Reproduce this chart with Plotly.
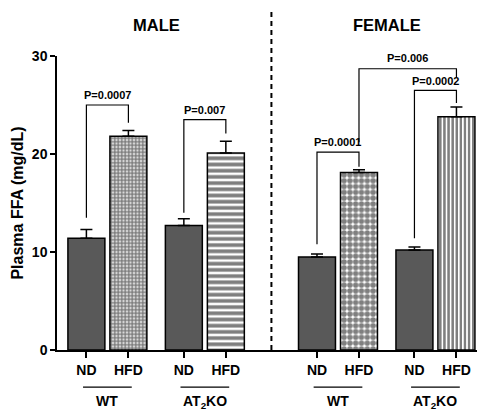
import plotly.graph_objects as go

# ---- data ----
groups = ["MALE", "MALE", "MALE", "MALE", "FEMALE", "FEMALE", "FEMALE", "FEMALE"]
genotypes = ["WT", "WT", "AT2KO", "AT2KO", "WT", "WT", "AT2KO", "AT2KO"]
diets = ["ND", "HFD", "ND", "HFD", "ND", "HFD", "ND", "HFD"]
means = [11.4, 21.8, 12.7, 20.1, 9.5, 18.1, 10.2, 23.8]
sem = [0.9, 0.6, 0.7, 1.2, 0.3, 0.3, 0.3, 1.0]
pvalues = ["P=0.0007", "P=0.007", "P=0.0001", "P=0.0002", "P=0.006"]
# comparisons: (left bar index, right bar index)
comparisons = [(0, 1), (2, 3), (4, 5), (6, 7), (5, 7)]
y_ticks = [0, 10, 20, 30]

# ---- layout helpers ----
start, within, pair_gap, sex_gap = 0.70, 1.0, 1.32, 2.17
pos = []
x = start
for i in range(8):
    if i > 0:
        if i % 4 == 0:
            x += sex_gap
        elif i % 2 == 0:
            x += pair_gap
        else:
            x += within
    pos.append(x)

gray = "#595959"
shapes_pat = ["", ".", "", "-", "", ".", "", "|"]
pat_size = [4, 3.5, 4, 6.2, 4, 5.8, 4, 4.1]
pat_sol = [0.3, 0.75, 0.3, 0.6, 0.3, 0.7, 0.3, 0.6]

fig = go.Figure()
for i in range(len(means)):
    if shapes_pat[i]:
        marker = dict(color="white", line=dict(color="black", width=1.5),
                      pattern=dict(shape=shapes_pat[i], fgcolor="black", bgcolor="white",
                                   size=pat_size[i], solidity=pat_sol[i]))
    else:
        marker = dict(color=gray, line=dict(color="black", width=1.5))
    fig.add_trace(go.Bar(
        x=[pos[i]], y=[means[i]], width=0.88, marker=marker,
        error_y=dict(type="data", symmetric=False, array=[sem[i]],
                     arrayminus=[0], color="black", thickness=1.5, width=6),
        showlegend=False,
    ))

font_b = dict(family="Arial, Liberation Sans, sans-serif", color="black", weight="bold")

shapes = []
annotations = []

# significance brackets: (top, left leg bottom, right leg bottom, text y)
bracket_geom = [(25.0, 13.5, 23.2, 26.0), (23.5, 14.0, 22.1, 24.5),
                (20.2, 10.8, 18.7, 21.2), (26.5, 11.4, 25.2, 27.5),
                (28.7, 21.2, 27.8, 29.8)]
for (a, b), p, (top, lb, rb, ty) in zip(comparisons, pvalues, bracket_geom):
    xa, xb = pos[a], pos[b]
    shapes.append(dict(type="path", xref="x", yref="y",
                       path=f"M {xa},{lb} L {xa},{top} L {xb},{top} L {xb},{rb}",
                       line=dict(color="black", width=1.2)))
    annotations.append(dict(x=(xa + xb) / 2, y=ty, xref="x", yref="y", text=p,
                            showarrow=False, yanchor="middle",
                            font=dict(size=11, **font_b)))

# dashed divider
mid = (pos[3] + pos[4]) / 2
shapes.append(dict(type="line", xref="x", yref="paper", x0=mid, x1=mid, y0=0, y1=1.15,
                   line=dict(color="black", width=2, dash="5px,4px")))

# genotype lines and labels
geno_text = {"WT": "WT", "AT2KO": "AT<sub>2</sub>KO"}
for i in range(0, 8, 2):
    xa, xb = pos[i], pos[i + 1]
    shapes.append(dict(type="line", xref="x", yref="paper", x0=xa - 0.08, x1=xb + 0.08,
                       y0=-0.126, y1=-0.126, line=dict(color="black", width=1.2)))
    annotations.append(dict(x=(xa + xb) / 2, y=-0.14, xref="x", yref="paper",
                            text=geno_text[genotypes[i]], showarrow=False, yanchor="top",
                            font=dict(size=14, **font_b)))

# sex titles
for g_idx in (0, 4):
    annotations.append(dict(x=(pos[g_idx] + pos[g_idx + 3]) / 2, y=1.105, xref="x", yref="paper",
                            text=groups[g_idx], showarrow=False, yanchor="middle",
                            font=dict(size=16.5, **font_b)))

# page body has an 8px margin: shrink figure so the plot lands where the reference has it
fig.update_layout(
    width=477, height=402,
    margin=dict(l=49, r=0, t=48, b=60),
    paper_bgcolor="white", plot_bgcolor="white",
    shapes=shapes, annotations=annotations,
    barmode="overlay",
    xaxis=dict(range=[0, 10.19], tickvals=pos, ticktext=diets,
               ticks="outside", ticklen=6, tickwidth=1.5, tickcolor="black",
               showline=True, linecolor="black", linewidth=1.5,
               showgrid=False, zeroline=False,
               tickfont=dict(size=14, **font_b)),
    yaxis=dict(range=[0, 30], tickvals=y_ticks,
               ticks="outside", ticklen=5, tickwidth=1.5, tickcolor="black",
               showline=True, linecolor="black", linewidth=1.5,
               showgrid=False, zeroline=False,
               tickfont=dict(size=14, **font_b),
               title=dict(text="Plasma FFA (mg/dL)", standoff=4,
                          font=dict(size=16, **font_b))),
)

fig.write_html("out.html")
